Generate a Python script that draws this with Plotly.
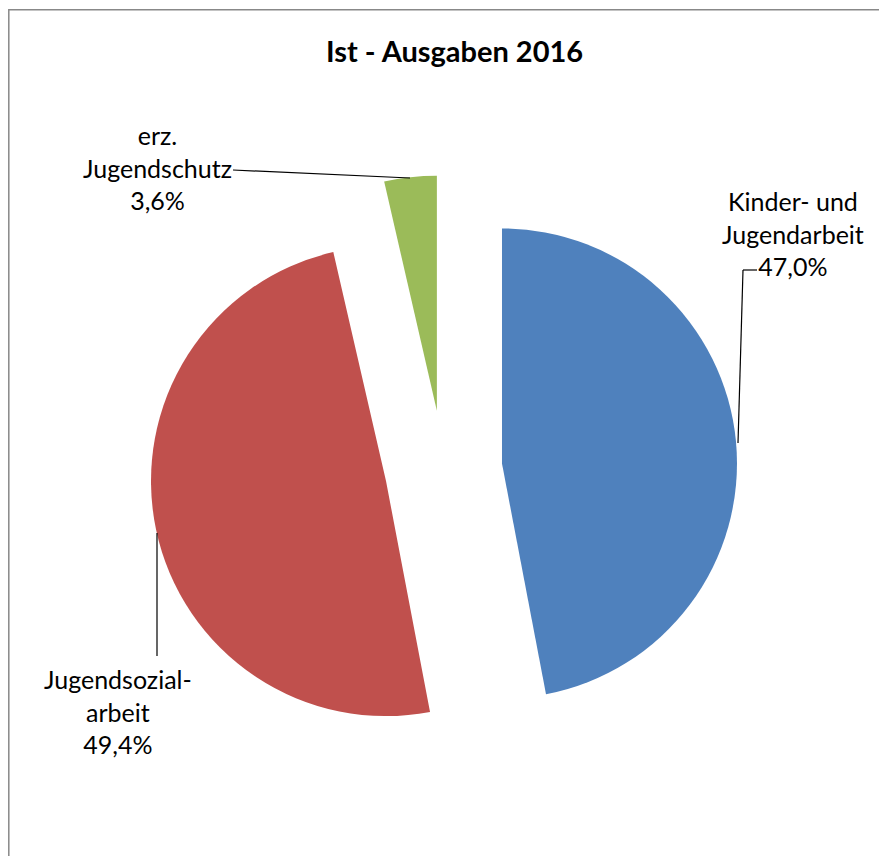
import plotly.graph_objects as go

W, H = 887, 864
OFF = 8  # default body margin of the page
FW, FH = W - 2 * OFF, H - 2 * OFF  # figure size that fits inside the window

labels = ["Kinder- und<br>Jugendarbeit", "Jugendsozial-<br>arbeit", "erz.<br>Jugendschutz"]
values = [47.0, 49.4, 3.6]
colors = ["#4F81BD", "#C0504D", "#9BBB59"]
title_text = "Ist - Ausgaben 2016"

FONT = "Lato"


def px(x, y):
    # screen pixel position -> paper coords (margins are zero)
    return (x - OFF) / FW, 1 - (y - OFF) / FH


fig = go.Figure()

x0, y1 = px(149.75, 175.25)
x1, y0 = px(737.25, 762.75)
fig.add_trace(go.Pie(
    labels=labels,
    values=values,
    sort=False,
    direction="clockwise",
    rotation=0,
    pull=[0.25, 0.25, 0.25],
    marker=dict(colors=colors, line=dict(width=0)),
    textinfo="none",
    hoverinfo="label+percent",
    domain=dict(x=[x0, x1], y=[y0, y1]),
    showlegend=False,
))

# label texts: name + percentage with comma decimal
label_pos = [(793, 233), (118, 711), (157, 167)]
for lab, val, (x, y) in zip(labels, values, label_pos):
    xx, yy = px(x, y)
    pct = f"{val:.1f}".replace(".", ",") + "%"
    fig.add_annotation(
        x=xx, y=yy, xref="paper", yref="paper",
        xanchor="center", yanchor="middle",
        text=f"{lab}<br>{pct}",
        showarrow=False, align="center",
        font=dict(family=FONT, size=25, color="black"),
    )

# leader lines
def seg(xa, ya, xb, yb):
    a, b = px(xa, ya)
    c, d = px(xb, yb)
    fig.add_shape(type="line", xref="paper", yref="paper", x0=a, y0=b, x1=c, y1=d,
                  line=dict(color="black", width=1.2))

seg(233, 170, 410, 178)
seg(757, 270, 743, 270)
seg(743, 270, 738, 443)
seg(157, 533, 157, 656)

# chart area border: only top and left edges are inside the picture
bx, by = px(8.8, 9.8)
fig.add_shape(type="path", xref="paper", yref="paper",
              path=f"M {bx:.5f},0 L {bx:.5f},{by:.5f} L 1,{by:.5f}",
              line=dict(color="#888888", width=1.5))

tx, ty = px(454, 50)
fig.add_annotation(
    x=tx, y=ty, xref="paper", yref="paper",
    xanchor="center", yanchor="middle",
    text=f"<b>{title_text}</b>", showarrow=False,
    font=dict(family=FONT, size=29, color="black"),
)

fig.update_layout(
    width=FW, height=FH,
    margin=dict(l=0, r=0, t=0, b=0),
    paper_bgcolor="white",
    plot_bgcolor="white",
)

fig.write_html("out.html")
